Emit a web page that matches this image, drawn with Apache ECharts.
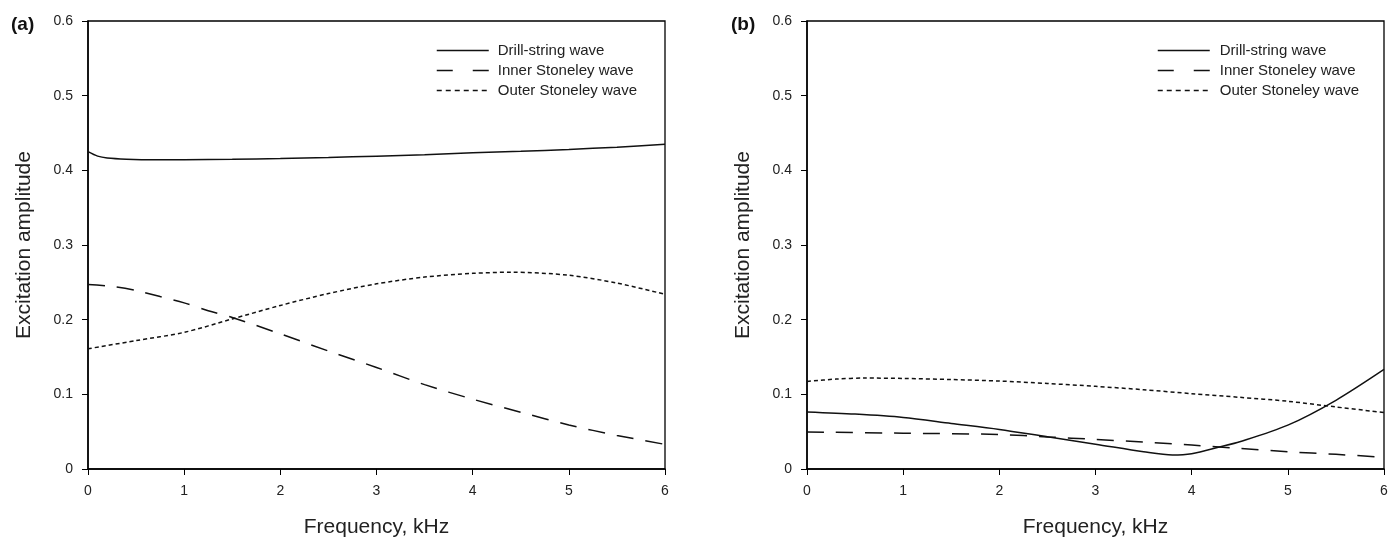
<!DOCTYPE html>
<html>
<head>
<meta charset="utf-8">
<script src="https://cdn.jsdelivr.net/npm/echarts@6/dist/echarts.min.js"></script>
<style>
    html, body {margin: 0; padding: 0; background: #fff;}
    #main {width: 1397px; height: 541px;}
</style>
</head>
<body>
<div id="main"></div>
<script>
// panel (a)
let freqDrillA = [0, 0.1, 0.2, 0.4, 0.7, 1, 1.5, 2, 2.5, 3, 3.5, 4, 4.5, 5, 5.5, 6];
let drillA = [0.425, 0.419, 0.4165, 0.415, 0.4143, 0.4143, 0.4148, 0.4158, 0.4172, 0.419, 0.421, 0.4235, 0.4255, 0.428, 0.431, 0.435];
let freqInnerA = [0, 0.25, 0.5, 0.75, 1, 1.25, 1.5, 2, 2.5, 3, 3.5, 4, 4.5, 5, 5.5, 6];
let innerA = [0.247, 0.2445, 0.239, 0.231, 0.2225, 0.212, 0.203, 0.181, 0.158, 0.136, 0.113, 0.0935, 0.076, 0.059, 0.045, 0.033];
let freqOuterA = [0, 0.5, 1, 1.5, 2, 2.5, 3, 3.5, 4, 4.4, 5, 5.5, 6];
let outerA = [0.161, 0.172, 0.183, 0.201, 0.219, 0.235, 0.248, 0.257, 0.262, 0.2635, 0.2595, 0.249, 0.234];

// panel (b)
let freqDrillB = [0, 0.5, 1, 1.5, 2, 2.5, 3, 3.5, 3.8, 4, 4.3, 4.5, 5, 5.5, 6];
let drillB = [0.0764, 0.0735, 0.069, 0.061, 0.053, 0.0431, 0.0333, 0.0231, 0.0187, 0.0205, 0.0298, 0.0364, 0.0587, 0.092, 0.1333];
let freqInnerB = [0, 1, 2, 2.5, 3, 3.5, 4, 4.5, 5, 5.5, 6];
let innerB = [0.0495, 0.048, 0.0462, 0.043, 0.0396, 0.036, 0.032, 0.0277, 0.0231, 0.0196, 0.0158];
let freqOuterB = [0, 0.3, 0.6, 1, 1.5, 2, 2.5, 3, 3.5, 4, 4.5, 5, 5.5, 6];
let outerB = [0.1173, 0.1204, 0.1218, 0.1213, 0.1198, 0.1178, 0.1145, 0.1107, 0.1062, 0.1009, 0.096, 0.0907, 0.0831, 0.0756];

let seriesNames = ['Drill-string wave', 'Inner Stoneley wave', 'Outer Stoneley wave'];
let yTicks = ['0', '0.1', '0.2', '0.3', '0.4', '0.5', '0.6'];

let zip = (xs, ys) => xs.map((x, i) => [x, ys[i]]);

let dashes = [
    {type: 'solid', width: 1.5},
    {type: [17, 12], width: 1.5},
    {type: [4, 3], width: 1.5}
];
// legend samples use slightly different dash spacing than the curves
let legendDashes = [
    {type: 'solid', width: 1.5, color: '#111'},
    {type: [16, 20], width: 1.5, color: '#111'},
    {type: [5, 4], width: 1.3, color: '#111'}
];

let makeSeries = (idx, name, data) => ({
    name: name,
    type: 'line',
    xAxisIndex: idx,
    yAxisIndex: idx,
    data: data,
    smooth: 0.3,
    showSymbol: false,
    symbol: 'none',
    color: '#111',
    lineStyle: Object.assign({color: '#111'}, dashes[seriesNames.indexOf(name)]),
    animation: false
});

let xAxisOf = idx => ({
    type: 'value',
    gridIndex: idx,
    min: 0, max: 6, interval: 1,
    name: 'Frequency, kHz',
    nameLocation: 'middle',
    nameGap: 48,
    nameTextStyle: {fontFamily: 'Liberation Sans', fontSize: 21, color: '#222'},
    axisLine: {lineStyle: {color: '#000', width: 1.5}},
    axisTick: {inside: false, length: 6, lineStyle: {color: '#000'}},
    axisLabel: {fontFamily: 'Liberation Sans', fontSize: 14, color: '#222', margin: 15},
    splitLine: {show: false}
});

let yAxisOf = idx => ({
    type: 'value',
    gridIndex: idx,
    min: 0, max: 0.6, interval: 0.1,
    name: 'Excitation amplitude',
    nameLocation: 'middle',
    nameGap: 53,
    nameTextStyle: {fontFamily: 'Liberation Sans', fontSize: 21, color: '#222'},
    axisLine: {lineStyle: {color: '#000', width: 1.5}},
    axisTick: {inside: false, length: 6, lineStyle: {color: '#000'}},
    axisLabel: {
        fontFamily: 'Liberation Sans', fontSize: 14, color: '#222', margin: 15,
        formatter: v => yTicks[Math.round(v * 10)]
    },
    splitLine: {show: false}
});

let legendOf = (left, pad) => ({
    left: left,
    top: 38,
    orient: 'vertical',
    itemWidth: 52,
    itemHeight: 10,
    itemGap: 5,
    data: seriesNames.map((n, i) => ({name: n, lineStyle: legendDashes[i]})),
    itemStyle: {opacity: 0},
    textStyle: {fontFamily: 'Liberation Sans', fontSize: 15, color: '#222', padding: [0, 0, 0, pad]},
    selectedMode: false
});

let chart = echarts.init(document.getElementById('main'));
chart.setOption({
    backgroundColor: '#fff',
    animation: false,
    title: [
        {text: '(a)', left: 6, top: 10, textStyle: {fontFamily: 'Liberation Sans', fontSize: 19, fontWeight: 'bold', color: '#111'}},
        {text: '(b)', left: 726, top: 10, textStyle: {fontFamily: 'Liberation Sans', fontSize: 19, fontWeight: 'bold', color: '#111'}}
    ],
    legend: [legendOf(431, 4), legendOf(1152, 5)],
    grid: [
        {left: 88, right: 732, top: 21, bottom: 72, containLabel: false, outerBoundsMode: 'none', show: true, borderColor: '#000', borderWidth: 1.3},
        {left: 807, right: 13, top: 21, bottom: 72, containLabel: false, outerBoundsMode: 'none', show: true, borderColor: '#000', borderWidth: 1.3}
    ],
    xAxis: [xAxisOf(0), xAxisOf(1)],
    yAxis: [yAxisOf(0), yAxisOf(1)],
    series: [
        makeSeries(0, seriesNames[0], zip(freqDrillA, drillA)),
        makeSeries(0, seriesNames[1], zip(freqInnerA, innerA)),
        makeSeries(0, seriesNames[2], zip(freqOuterA, outerA)),
        makeSeries(1, seriesNames[0], zip(freqDrillB, drillB)),
        makeSeries(1, seriesNames[1], zip(freqInnerB, innerB)),
        makeSeries(1, seriesNames[2], zip(freqOuterB, outerB))
    ]
});
</script>
</body>
</html>
